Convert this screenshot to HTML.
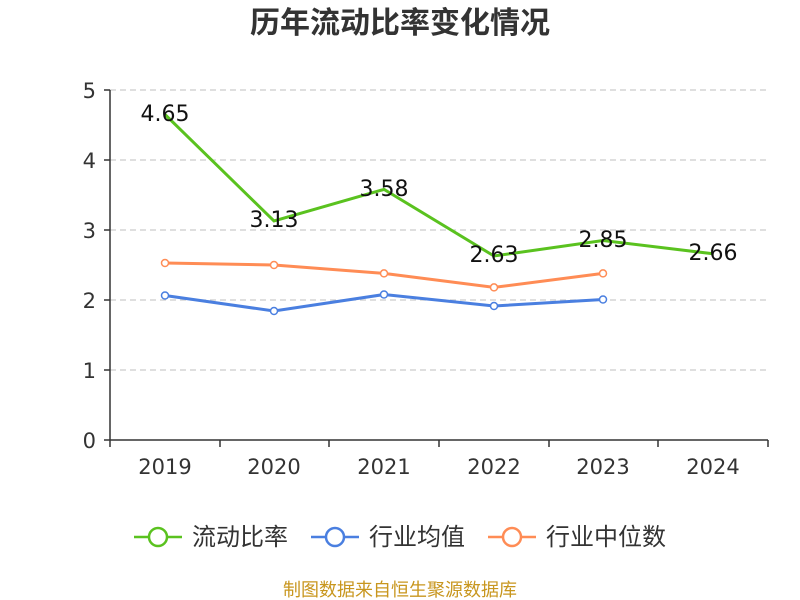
<!DOCTYPE html>
<html><head><meta charset="utf-8"><style>body{margin:0;background:#fff}svg{display:block}</style></head>
<body>
<svg width="800" height="600" xmlns="http://www.w3.org/2000/svg" font-family="'DejaVu Sans','Noto Sans CJK SC',sans-serif">
<text x="400" y="33" text-anchor="middle" font-size="30" font-weight="bold" fill="#333" font-family="'Noto Sans CJK SC',sans-serif">历年流动比率变化情况</text>
<g stroke="#ccc" stroke-dasharray="6,4" stroke-width="1.2">
<line x1="110" y1="90" x2="768" y2="90"/><line x1="110" y1="160" x2="768" y2="160"/>
<line x1="110" y1="230" x2="768" y2="230"/><line x1="110" y1="300" x2="768" y2="300"/>
<line x1="110" y1="370" x2="768" y2="370"/></g>
<g stroke="#333" stroke-width="1.5">
<line x1="110" y1="90" x2="110" y2="440"/><line x1="110" y1="440" x2="768" y2="440"/>
<line x1="104" y1="90" x2="110" y2="90"/><line x1="104" y1="160" x2="110" y2="160"/><line x1="104" y1="230" x2="110" y2="230"/><line x1="104" y1="300" x2="110" y2="300"/><line x1="104" y1="370" x2="110" y2="370"/><line x1="104" y1="440" x2="110" y2="440"/>
<line x1="110" y1="440" x2="110" y2="447"/><line x1="220" y1="440" x2="220" y2="447"/><line x1="329" y1="440" x2="329" y2="447"/><line x1="439" y1="440" x2="439" y2="447"/><line x1="549" y1="440" x2="549" y2="447"/><line x1="658" y1="440" x2="658" y2="447"/><line x1="768" y1="440" x2="768" y2="447"/>
</g>
<g font-size="21" fill="#333" text-anchor="end">
<text x="96" y="98">5</text><text x="96" y="168">4</text><text x="96" y="238">3</text><text x="96" y="308">2</text><text x="96" y="378">1</text><text x="96" y="448">0</text></g>
<g font-size="21" fill="#333" text-anchor="middle">
<text x="165" y="474">2019</text><text x="274" y="474">2020</text><text x="384" y="474">2021</text><text x="494" y="474">2022</text><text x="603" y="474">2023</text><text x="713" y="474">2024</text></g>
<polyline fill="none" stroke="#ff8c55" stroke-width="3" points="165,263 274,265 384,273.4 494,287.4 603,273.4"/>
<polyline fill="none" stroke="#4a7fe0" stroke-width="3" points="165,295.5 274,311 384,294.5 494,306 603,299.5"/>
<polyline fill="none" stroke="#5ac21f" stroke-width="3" points="165,114.5 274,221 384,189.4 494,256 603,240.5 713,253.8"/>
<g fill="#fff" stroke-width="1.5">
<g stroke="#ff8c55"><circle cx="165" cy="263" r="3.5"/><circle cx="274" cy="265" r="3.5"/><circle cx="384" cy="273.4" r="3.5"/><circle cx="494" cy="287.4" r="3.5"/><circle cx="603" cy="273.4" r="3.5"/></g>
<g stroke="#4a7fe0"><circle cx="165" cy="295.5" r="3.5"/><circle cx="274" cy="311" r="3.5"/><circle cx="384" cy="294.5" r="3.5"/><circle cx="494" cy="306" r="3.5"/><circle cx="603" cy="299.5" r="3.5"/></g>
</g>
<g font-size="22" fill="#111" text-anchor="middle">
<text x="165" y="121">4.65</text><text x="274" y="227">3.13</text><text x="384" y="196">3.58</text><text x="494" y="262">2.63</text><text x="603" y="247">2.85</text><text x="713" y="260">2.66</text></g>
<g stroke-width="2.5" fill="#fff">
<line x1="134" y1="537" x2="182" y2="537" stroke="#5ac21f"/><circle cx="158" cy="537" r="9" stroke="#5ac21f"/>
<line x1="311" y1="537" x2="359" y2="537" stroke="#4a7fe0"/><circle cx="335" cy="537" r="9" stroke="#4a7fe0"/>
<line x1="488" y1="537" x2="536" y2="537" stroke="#ff8c55"/><circle cx="512" cy="537" r="9" stroke="#ff8c55"/>
</g>
<g font-size="24" fill="#333" font-family="'Noto Sans CJK SC',sans-serif">
<text x="192" y="545">流动比率</text><text x="369" y="545">行业均值</text><text x="546" y="545">行业中位数</text></g>
<text x="400" y="596" text-anchor="middle" font-size="18" fill="#c8961e" font-family="'Noto Sans CJK SC',sans-serif">制图数据来自恒生聚源数据库</text>
</svg>
</body></html>
